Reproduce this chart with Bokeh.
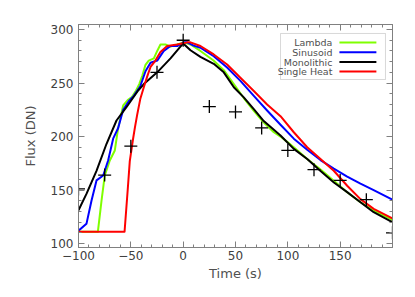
from bokeh.plotting import figure
from bokeh.models import Range1d, LinearAxis, FixedTicker, BoxAnnotation, Label, CustomJSTickFormatter
from bokeh.core.properties import value
from bokeh.embed import file_html
from bokeh.resources import INLINE

# ---- data ----
obs_t = [-100, -75, -50, -25, 0, 25, 50, 75, 100, 125, 150, 175, 200]
obs_flux = [151, 164, 191, 260, 290, 228, 223, 208, 187, 169, 159, 141, 110]

lambda_t = [-100, -81.5, -78, -74.9, -70.1, -65.3, -62.1, -57.3, -53, -49, -45, -42, -39, -36, -32.9,
            -28, -24.8, -21.7, -16.9, -12.1, -5.7, 0.6, 7, 16.5, 29, 38.8, 48.4, 57.9, 67.5, 77, 86.6, 93,
            99.4, 105.7, 118.5, 131, 143.9, 156.7, 169.4, 182, 198, 200]
lambda_flux = [111, 111, 140, 163.6, 177.6, 187, 208, 229, 234, 237, 243, 249, 257, 267, 271,
               273, 280, 286, 286, 284, 286, 288, 286, 280, 271, 262, 249, 236, 224, 213, 204, 200,
               195, 190, 179, 169.5, 158.6, 148, 138.6, 130.8, 123, 122]

sinus_t = [-100, -92.4, -87.6, -82.8, -76.4, -71.7, -66.9, -62.1, -57.3, -52, -47.2, -41,
           -36, -31.2, -24.8, -18.5, -12.1, -5.7, 0.6, 3.8, 10, 16.5, 29.2, 42, 54.7, 67.5, 80.2, 93,
           105.7, 118.5, 131.2, 143.9, 156.7, 169.4, 182, 198, 200]
sinus_flux = [112, 118.4, 140, 159, 163.6, 177.6, 198, 208, 225, 233, 238, 247,
              261, 269, 271, 280, 284.6, 284.6, 288, 288, 285, 283, 275, 264.5, 252, 238, 224.3, 211,
              198, 187.6, 178, 170, 162.6, 156, 150, 142, 141]

mono_t = [-100, -92.4, -82.8, -73.3, -63.7, -54.2, -43, -37.6, -24.8, -12.1, 0, 7, 16.5, 29.2, 38.8, 48.4,
          57.9, 67.5, 77, 93, 105.7, 118.5, 131, 144, 156.7, 169.4, 182, 198, 200]
mono_flux = [131, 146.4, 168, 193, 215, 227.4, 243, 249, 260, 273, 287, 280.6, 274.4, 268, 260, 246,
             236.6, 225.6, 214.5, 201, 188.5, 179, 168, 157, 148, 138.6, 129.3, 121, 120]

single_t = [-100, -56, -53, -51, -48, -46, -44, -41, -37.6, -34.4, -31.2, -26.5, -21.7, -15.3, -5.7, 3.8,
            7, 16.5, 29.2, 42, 54.7, 67.5, 80.2, 93, 105.7, 118.5, 131.2, 143.9, 156.7, 169.4, 182, 198, 200]
single_flux = [111, 111, 150, 177, 197, 209, 220, 235, 246, 256, 265, 271, 279, 284.6, 286, 288,
               288, 284.6, 276.7, 267.3, 255, 242.5, 230, 219, 204, 190, 179, 168, 154, 141.5, 132.4, 124.5, 123.5]

series_names = ["Lambda", "Sinusoid", "Monolithic", "Single Heat"]
series_colors = ["#7fff00", "#0000ff", "#000000", "#ff0000"]

x_major = [-100, -50, 0, 50, 100, 150]
x_minor = list(range(-100, 201, 10))
y_major = [100, 150, 200, 250, 300]
y_minor = list(range(100, 301, 10))

FONT = "DejaVu Sans"
GREY = "#808080"

p = figure(width=407, height=289, output_backend="svg", toolbar_location=None,
           x_range=Range1d(-100, 200), y_range=Range1d(96.3, 304.7),
           min_border_left=78, min_border_right=15, min_border_top=24, min_border_bottom=42)
p.grid.visible = False
p.outline_line_color = GREY
p.background_fill_color = "white"

def style_axis(ax):
    ax.axis_line_color = GREY
    ax.major_tick_line_color = GREY
    ax.minor_tick_line_color = GREY
    ax.major_tick_in = 6
    ax.major_tick_out = 0
    ax.minor_tick_in = 3
    ax.minor_tick_out = 0
    ax.major_label_text_font = FONT
    ax.major_label_text_color = "#404040"
    ax.axis_label_text_font = FONT
    ax.axis_label_text_font_style = "normal"
    ax.axis_label_text_color = "#505050"
    ax.major_label_text_font_size = "12px"
    ax.axis_label_text_font_size = "13px"

p.xaxis.ticker = FixedTicker(ticks=x_major, minor_ticks=x_minor)
p.yaxis.ticker = FixedTicker(ticks=y_major, minor_ticks=y_minor)
p.xaxis.major_label_overrides = {-100: "\u2212100", -50: "\u221250"}
style_axis(p.xaxis[0])
style_axis(p.yaxis[0])
p.xaxis.axis_label = "Time (s)"
p.yaxis.axis_label = "Flux (DN)"
p.xaxis.major_label_standoff = 3
p.xaxis.axis_label_standoff = 3
p.yaxis.major_label_standoff = 5
p.yaxis.axis_label_standoff = 10

# top and right axes: ticks only
top_ax = LinearAxis(ticker=FixedTicker(ticks=x_major, minor_ticks=x_minor),
                    formatter=CustomJSTickFormatter(code="return ''"))
style_axis(top_ax)
top_ax.major_label_standoff = 0
p.add_layout(top_ax, "above")
right_ax = LinearAxis(ticker=FixedTicker(ticks=y_major, minor_ticks=y_minor),
                      formatter=CustomJSTickFormatter(code="return ''"))
style_axis(right_ax)
right_ax.major_label_standoff = 0
p.add_layout(right_ax, "right")

curves = [(lambda_t, lambda_flux), (sinus_t, sinus_flux), (mono_t, mono_flux), (single_t, single_flux)]
for (tt, ff), col in zip(curves, series_colors):
    p.line(tt, ff, line_color=col, line_width=2, line_join="round")

p.scatter(obs_t, obs_flux, marker="cross", size=13, line_color="black", line_width=1.3)

# legend (drawn manually: labels left of samples)
box = BoxAnnotation(left=93, right=193.3, top=296.3, bottom=253.3, fill_color="white", fill_alpha=1,
                    line_color=GREY, line_width=1, level="underlay")
p.add_layout(box)
leg_y = [287.9, 278.8, 269.6, 260.8]
p.segment(x0=[149.3] * 4, y0=leg_y, x1=[184.6] * 4, y1=leg_y, line_color=series_colors, line_width=2)
p.text(x=[142.6] * 4, y=leg_y, text=series_names, text_align="right", text_baseline="middle",
       text_font=value(FONT), text_font_size="9.5px", text_color="#505050")

title = Label(x=50, y=310.5, text="ss02tb023", text_align="center", text_baseline="alphabetic",
              text_font=FONT, text_font_size="16px", text_color="#404040")
p.add_layout(title)

open("out.html", "w").write(file_html(p, INLINE))
